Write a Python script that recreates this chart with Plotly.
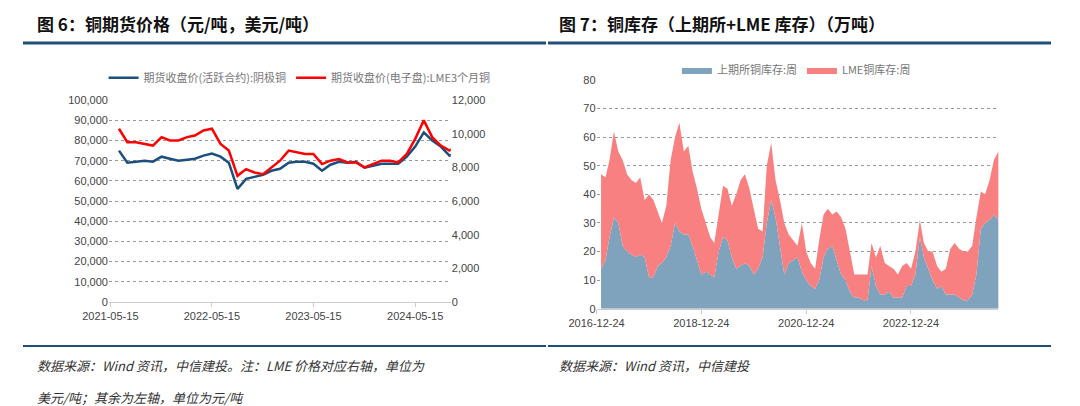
import plotly.graph_objects as go
import pandas as pd

# left panel: monthly copper futures prices
price_dates = pd.date_range("2021-05-15", periods=41, freq="MS").strftime("%Y-%m-15").tolist()
shfe_price = [75000, 69000, 69500, 70000, 69500, 72000, 71000, 70000, 70500, 71000, 72500, 73500,
              72000, 69000, 56000, 61000, 62000, 63000, 65000, 66000, 69000, 69500, 69500, 68500,
              65000, 68000, 69500, 69000, 69500, 66500, 67500, 68500, 68500, 68500, 72000, 77000,
              84000, 80000, 77000, 72500, 74000]
lme_price = [10300, 9500, 9500, 9400, 9300, 9800, 9600, 9600, 9800, 9900, 10200, 10300,
             9400, 9000, 7500, 7900, 7700, 7600, 8000, 8400, 9000, 8900, 8800, 8800,
             8200, 8400, 8500, 8300, 8300, 8000, 8200, 8400, 8400, 8300, 8800, 9700,
             10800, 9800, 9300, 9000, 9300]

# right panel: monthly inventories (10k tonnes)
stock_dates = pd.date_range("2016-12-24", periods=93, freq="MS").strftime("%Y-%m-24").tolist()
shfe_stock = [14, 17, 25, 32, 30, 22, 20, 19, 18, 19, 18, 11, 11,
              15, 16, 18, 22, 30, 27, 26, 26, 22, 17, 12, 13,
              12, 11, 20, 25, 24, 18, 14, 15, 16, 15, 12, 14,
              18, 30, 38, 32, 22, 12, 16, 17, 18, 13, 10, 8,
              7, 10, 18, 21, 22, 17, 12, 10, 6, 4, 4, 3,
              3, 15, 8, 5, 5, 6, 4, 4, 4, 8, 8, 12,
              25, 18, 14, 10, 7, 8, 5, 5, 5, 4, 3, 3,
              5, 12, 28, 30, 31, 33, 31, 24]
total_stock = [47, 46, 52, 62, 55, 52, 47, 45, 44, 46, 38, 40, 38,
               34, 30, 36, 52, 60, 65, 55, 57, 48, 42, 35, 30,
               25, 23, 33, 43, 42, 36, 40, 45, 47, 42, 35, 28,
               27, 50, 58, 45, 38, 30, 26, 24, 22, 30, 20, 16,
               14, 24, 33, 35, 33, 34, 32, 28, 20, 12, 12, 12,
               12, 23, 18, 22, 16, 15, 14, 12, 15, 16, 14, 20,
               31, 23, 20, 20, 15, 13, 14, 21, 23, 21, 20, 20,
               22, 32, 41, 40, 45, 52, 55, 57]
lme_stock = [t - s for t, s in zip(total_stock, shfe_stock)]

font = "Noto Sans CJK SC"
fig = go.Figure()

fig.add_trace(go.Scatter(x=price_dates, y=shfe_price, mode="lines", name="期货收盘价(活跃合约):阴极铜",
                         line=dict(color="#1B4F7E", width=2.5), xaxis="x", yaxis="y", legend="legend"))
fig.add_trace(go.Scatter(x=price_dates, y=lme_price, mode="lines", name="期货收盘价(电子盘):LME3个月铜",
                         line=dict(color="#FF0000", width=2.5), xaxis="x", yaxis="y2", legend="legend"))

fig.add_trace(go.Scatter(x=stock_dates, y=shfe_stock, mode="lines", name="上期所铜库存:周", stackgroup="s",
                         line=dict(width=0, color="#7FA2BD"), fillcolor="#7FA2BD",
                         xaxis="x3", yaxis="y3", legend="legend2"))
fig.add_trace(go.Scatter(x=stock_dates, y=lme_stock, mode="lines", name="LME铜库存:周", stackgroup="s",
                         line=dict(width=0, color="#F88080"), fillcolor="#F88080",
                         xaxis="x3", yaxis="y3", legend="legend2"))

grid = dict(showgrid=True, gridcolor="#999999", griddash="dot", gridwidth=1, zeroline=False)
tickf = dict(family="Liberation Sans, Arial", size=11, color="#444444")

fig.update_layout(
    width=1080, height=406, margin=dict(l=0, r=0, t=0, b=0, autoexpand=False),
    paper_bgcolor="white", plot_bgcolor="white", showlegend=True,
    xaxis=dict(domain=[0.0935, 0.41], type="date", range=["2021-05-10", "2024-09-20"],
               tickvals=["2021-05-15", "2022-05-15", "2023-05-15", "2024-05-15"],
               ticktext=["2021-05-15", "2022-05-15", "2023-05-15", "2024-05-15"],
               showline=True, linecolor="#cccccc", ticks="outside", tickcolor="#cccccc", ticklen=4,
               tickfont=tickf, showgrid=False, anchor="y"),
    yaxis=dict(domain=[0.276, 0.773], range=[0, 100000], dtick=10000, tickformat=",d",
               tickfont=tickf, anchor="x", **grid),
    yaxis2=dict(overlaying="y", side="right", range=[0, 12000], dtick=2000, tickformat=",d",
                tickfont=tickf, showgrid=False, anchor="x"),
    xaxis3=dict(domain=[0.545, 0.917], type="date", range=["2016-12-24", "2024-08-24"],
                tickvals=["2016-12-24", "2018-12-24", "2020-12-24", "2022-12-24"],
                ticktext=["2016-12-24", "2018-12-24", "2020-12-24", "2022-12-24"],
                showline=True, linecolor="#cccccc", ticks="outside", tickcolor="#cccccc", ticklen=4,
                tickfont=tickf, showgrid=False, anchor="y3"),
    yaxis3=dict(domain=[0.259, 0.823], range=[0, 80], dtick=10, tickfont=tickf, anchor="x3", **grid),
    legend=dict(orientation="h", x=0.27, xanchor="center", y=0.828, yanchor="middle",
                font=dict(family=font, size=11, color="#777777"), bgcolor="rgba(0,0,0,0)"),
    legend2=dict(orientation="h", x=0.73, xanchor="center", y=0.847, yanchor="middle",
                 traceorder="normal",
                 font=dict(family=font, size=11, color="#777777"), bgcolor="rgba(0,0,0,0)",
                 itemwidth=30),
)

blue = "#1F4E79"
for x0, x1 in [(15, 538), (540, 1043)]:
    fig.add_shape(type="line", xref="paper", yref="paper", x0=x0 / 1080, x1=x1 / 1080,
                  y0=1 - 35 / 406, y1=1 - 35 / 406, line=dict(color=blue, width=3))
    fig.add_shape(type="line", xref="paper", yref="paper", x0=x0 / 1080, x1=x1 / 1080,
                  y0=1 - 338 / 406, y1=1 - 338 / 406, line=dict(color=blue, width=2))

texts = [
    (27, 16, "<b>图 6：铜期货价格（元/吨，美元/吨）</b>", 17, "#111111"),
    (549, 16, "<b>图 7：铜库存（上期所+LME 库存）（万吨）</b>", 17, "#111111"),
    (27, 357, "<i>数据来源：Wind 资讯，中信建投。注：LME 价格对应右轴，单位为</i>", 13, "#333333"),
    (27, 389, "<i>美元/吨；其余为左轴，单位为元/吨</i>", 13, "#333333"),
    (549, 357, "<i>数据来源：Wind 资讯，中信建投</i>", 13, "#333333"),
]
for x, y, t, s, c in texts:
    fig.add_annotation(x=x / 1080, y=1 - y / 406, xref="paper", yref="paper", text=t, showarrow=False,
                       xanchor="left", yanchor="middle", font=dict(family=font, size=s, color=c))

fig.write_html("out.html")
